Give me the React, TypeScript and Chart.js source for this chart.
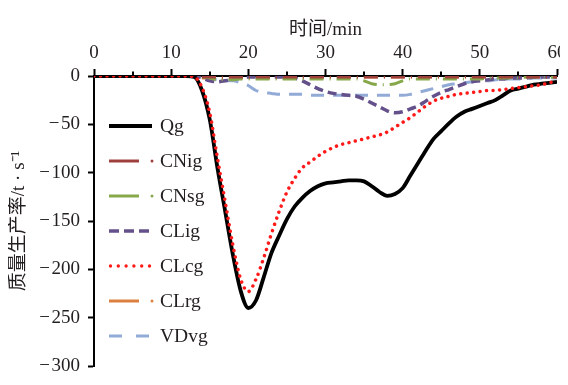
import React, { useEffect, useRef } from "react";
import { Chart, registerables } from "chart.js";

Chart.register(...registerables);

const minutes = [
  0, 1, 2, 3, 4, 5, 6, 7, 8, 9, 10, 11, 12, 13, 14, 15, 16, 17, 18, 19, 20,
  21, 22, 23, 24, 25, 26, 27, 28, 29, 30, 31, 32, 33, 34, 35, 36, 37, 38, 39, 40,
  41, 42, 43, 44, 45, 46, 47, 48, 49, 50, 51, 52, 53, 54, 55, 56, 57, 58, 59, 60,
];

const Qg = [
  0, 0, 0, 0, 0, 0, 0, 0, 0, 0, 0, 0, 0, -1, -15, -45, -95, -140, -185, -222, -240,
  -232, -208, -183, -165, -148, -135, -126, -119, -114, -111, -110, -109, -108, -108, -109, -114, -120, -124, -122, -116,
  -103, -90, -77, -65, -57, -49, -42, -37, -34, -31, -28, -25, -20, -15, -13, -11, -9, -8, -7, -6,
];

const CNig = [
  0, 0, 0, 0, 0, 0, 0, 0, 0, 0, 0, 0, 0, 0, -1, -1, -1, -1, -1, -1, -1,
  -1, -1, -1, -1, -1, -1, -1, -1, -1, -1, -1, -1, -1, -1, -1, -1, -1, -1, -1, -1,
  -1, -1, -1, -1, -1, -1, -1, -1, -1, -1, -1, -1, -1, -1, -1, -1, -1, -1, -1, -1,
];

const CNsg = [
  0, 0, 0, 0, 0, 0, 0, 0, 0, 0, 0, 0, 0, 0, -1, -2, -4, -4, -4, -3, -3,
  -3, -3, -3, -3, -3, -3, -3, -3, -3, -3, -3, -3, -3, -3, -5, -8, -9, -9, -8, -5,
  -3, -3, -3, -3, -3, -3, -3, -3, -3, -3, -2, -2, -2, -2, -2, -1, -1, -1, -1, -1,
];

const CLig = [
  0, 0, 0, 0, 0, 0, 0, 0, 0, 0, 0, 0, 0, 0, -2, -5, -6, -5, -3, -2, -1,
  -1, -1, -1, -1, -1, -2, -5, -9, -13, -16, -18, -19, -20, -21, -24, -28, -32, -36, -38, -37,
  -34, -31, -26, -21, -17, -14, -11, -8, -6, -5, -4, -3, -3, -2, -2, -2, -1, -1, -1, -1,
];

const CLcg = [
  0, 0, 0, 0, 0, 0, 0, 0, 0, 0, 0, 0, 0, -1, -12, -38, -85, -130, -175, -210, -223,
  -210, -188, -163, -140, -120, -106, -95, -89, -83, -78, -74, -71, -69, -67, -65, -63, -61, -58, -53, -48,
  -43, -37, -31, -26, -23, -21, -19, -18, -17, -16, -15, -15, -14, -13, -12, -11, -10, -9, -7, -5,
];

const CLrg = [
  0, 0, 0, 0, 0, 0, 0, 0, 0, 0, 0, 0, 0, -1, -2, -2, -2, -2, -2, -2, -2,
  -2, -2, -2, -2, -2, -1, -1, -1, -1, -1, -1, -1, -1, -1, -1, -1, -1, -1, -1, -1,
  -1, -1, -1, -1, -1, -1, -1, -1, -1, -1, -1, -1, -1, -1, -1, -1, -1, -1, -1, -1,
];

const VDvg = [
  0, 0, 0, 0, 0, 0, 0, 0, 0, 0, 0, 0, 0, 0, -1, -3, -4, -5, -5, -7, -10,
  -15, -17, -18, -19, -19, -19, -19, -20, -20, -20, -20, -20, -20, -20, -20, -20, -20, -20, -20, -20,
  -19, -17, -15, -13, -11, -9, -8, -7, -6, -5, -5, -4, -3, -3, -3, -3, -2, -2, -2, -2,
];

const seriesNames = ["Qg", "CNig", "CNsg", "CLig", "CLcg", "CLrg", "VDvg"];
const seriesValues = [Qg, CNig, CNsg, CLig, CLcg, CLrg, VDvg];

const xTitle = "时间/min";
const yTitle = "质量生产率/t · s⁻¹";

const FONT = "'Liberation Serif', 'Noto Sans CJK SC', serif";
const TEXT = "#231f20";

type Style = {
  color: string;
  dash: number[];
  width: number;
  cap: CanvasLineCap;
  kind: "solid" | "dashdot" | "dash" | "dot";
};

const styles: Style[] = [
  { color: "#000000", dash: [], width: 3.8, cap: "butt", kind: "solid" },
  { color: "#a0403c", dash: [14, 6, 1, 6], width: 3, cap: "butt", kind: "dashdot" },
  { color: "#86a84a", dash: [14, 6, 1, 6], width: 3, cap: "butt", kind: "dashdot" },
  { color: "#64508a", dash: [9, 5], width: 3.5, cap: "butt", kind: "dash" },
  { color: "#ff1a1a", dash: [0.01, 6.5], width: 3.5, cap: "round", kind: "dot" },
  { color: "#dc8040", dash: [14, 6, 1, 6], width: 3, cap: "butt", kind: "dashdot" },
  { color: "#92abd6", dash: [13, 9], width: 3, cap: "butt", kind: "dash" },
];

const legendPlugin = {
  id: "innerLegend",
  afterDraw(chart: any) {
    const ctx = chart.ctx as CanvasRenderingContext2D;
    const x0 = 101;
    const x1 = 144;
    const yStart = 118;
    const step = 35;
    ctx.save();
    // minor ticks on the top axis
    const xs = chart.scales.x;
    ctx.strokeStyle = "#000";
    ctx.lineWidth = 2;
    ctx.setLineDash([]);
    for (let v = 5; v < 60; v += 10) {
      const px = Math.round(xs.getPixelForValue(v));
      ctx.beginPath();
      ctx.moveTo(px, xs.bottom);
      ctx.lineTo(px, xs.bottom - 4.5);
      ctx.stroke();
    }
    chart.data.datasets.forEach((ds: any, i: number) => {
      const st = styles[i];
      const y = yStart + i * step;
      ctx.strokeStyle = st.color;
      ctx.fillStyle = st.color;
      ctx.lineWidth = st.width;
      if (st.kind === "solid") {
        ctx.setLineDash([]);
        ctx.lineCap = "butt";
        ctx.beginPath();
        ctx.moveTo(x0, y);
        ctx.lineTo(x1, y);
        ctx.stroke();
      } else if (st.kind === "dashdot") {
        ctx.setLineDash([]);
        ctx.lineCap = "butt";
        ctx.beginPath();
        ctx.moveTo(x0, y);
        ctx.lineTo(x0 + 30, y);
        ctx.stroke();
        ctx.beginPath();
        ctx.arc(x0 + 43, y, 1.5, 0, Math.PI * 2);
        ctx.fill();
      } else if (st.kind === "dash") {
        ctx.setLineDash(i === 3 ? [10, 5] : [13, 14]);
        ctx.lineCap = "butt";
        ctx.beginPath();
        ctx.moveTo(x0, y);
        ctx.lineTo(x1, y);
        ctx.stroke();
      } else {
        ctx.setLineDash([]);
        for (let k = 0; k < 6; k++) {
          ctx.beginPath();
          ctx.arc(x0 + 1.5 + k * 7.8, y, 1.7, 0, Math.PI * 2);
          ctx.fill();
        }
      }
      ctx.setLineDash([]);
      ctx.fillStyle = TEXT;
      ctx.font = `19.5px ${FONT}`;
      ctx.textAlign = "left";
      ctx.textBaseline = "middle";
      ctx.fillText(ds.label, 152, y + 1);
    });
    ctx.restore();
  },
};

export default function App() {
  const ref = useRef<HTMLCanvasElement | null>(null);

  useEffect(() => {
    if (!ref.current) return;
    document.documentElement.style.overflow = "hidden";
    const datasets = seriesNames.map((name, i) => ({
      label: name,
      data: seriesValues[i].map((v, j) => ({ x: minutes[j], y: v })),
      borderColor: styles[i].color,
      backgroundColor: styles[i].color,
      borderWidth: styles[i].width,
      borderDash: styles[i].dash,
      borderCapStyle: styles[i].cap,
      pointRadius: 0,
      fill: false,
      cubicInterpolationMode: "monotone" as const,
      order: i === 0 ? 1 : i === 4 ? 0 : 2,
    }));

    const chart = new Chart(ref.current, {
      type: "line",
      data: { datasets },
      plugins: [legendPlugin],
      options: {
        animation: false,
        responsive: false,
        maintainAspectRatio: false,
        layout: { padding: { left: 0, top: 0, right: 11, bottom: 11 } },
        plugins: {
          legend: { display: false },
          tooltip: { enabled: false },
        },
        scales: {
          x: {
            type: "linear",
            position: "top",
            min: 0,
            max: 60,
            afterFit(scale: any) {
              scale.height = 68;
              scale.paddingLeft = 0;
              scale.paddingRight = 0;
            },
            ticks: {
              stepSize: 5,
              color: TEXT,
              font: { family: FONT, size: 19 },
              padding: 5,
              maxRotation: 0,
              autoSkip: false,
              callback: (v: any) => (Number(v) % 10 === 0 ? String(v) : ""),
            },
            grid: {
              display: true,
              drawOnChartArea: false,
              drawTicks: true,
              tickLength: 7,
              tickColor: (c: any) =>
                c.tick && Number(c.tick.value) % 10 === 0 ? "#000" : "rgba(0,0,0,0)",
              tickWidth: 2,
            },
            border: { display: true, color: "#000", width: 2 },
            title: {
              display: true,
              text: xTitle,
              color: TEXT,
              font: { family: FONT, size: 19 },
              padding: { top: 11, bottom: 0 },
            },
          },
          y: {
            type: "linear",
            min: -300,
            max: 0,
            afterFit(scale: any) {
              scale.width = 86;
              scale.paddingTop = 0;
              scale.paddingBottom = 0;
            },
            ticks: {
              stepSize: 50,
              color: TEXT,
              font: { family: FONT, size: 19 },
              padding: 8,
              callback: (v: any) => String(v).replace("-", "\u2212\u200A"),
            },
            grid: {
              display: true,
              drawOnChartArea: false,
              drawTicks: true,
              tickLength: 6,
              tickColor: "#000",
              tickWidth: 2,
            },
            border: { display: true, color: "#000", width: 2 },
            title: {
              display: true,
              text: yTitle,
              color: TEXT,
              font: { family: FONT, size: 19 },
              padding: { top: 0, bottom: 0 },
            },
          },
        },
      },
    });
    return () => chart.destroy();
  }, []);

  return (
    <div style={{ width: 560, height: 369 }}>
      <canvas ref={ref} width={560} height={369} style={{ display: "block" }} />
    </div>
  );
}
